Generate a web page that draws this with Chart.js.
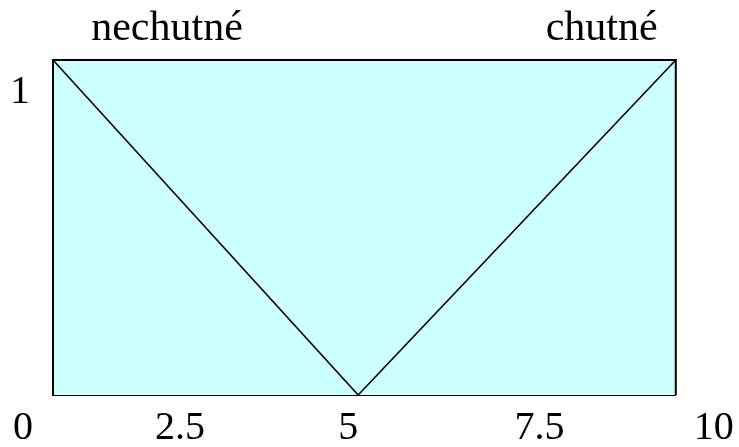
<!DOCTYPE html>
<html><head><meta charset="utf-8">
<script src="https://cdn.jsdelivr.net/npm/chart.js@4/dist/chart.umd.min.js"></script>
<style>html,body{margin:0;padding:0;background:#fff}canvas{display:block}</style>
</head><body>
<canvas id="c" width="739" height="447"></canvas>
<script>
// ---- data ----
const seriesNames = ['nechutné', 'chutné'];
const nechutneX = [0, 4.9];
const nechutneY = [1, 0];
const chutneX = [4.9, 10];
const chutneY = [0, 1];
// universe of discourse box (0..10 by membership 0..1); bottom edge is the x axis line
const boxX = [0, 0, 10, 10];
const boxY = [0, 1, 1, 0];
// tick labels
const xTickLabels = ['0', '2.5', '5', '7.5', '10'];
const yTickLabels = ['1'];

// ---- layout (where the hand-placed labels sit along the axes) ----
const xLabelPlace = [-0.48, 2.04, 4.74, 7.81, 10.61];
const yLabelPlace = [1];
const namePlace = [1.83, 8.81];

const pts = (xs, ys) => xs.map((x, i) => ({x: x, y: ys[i]}));
const FAMILY = '"Liberation Serif", "Times New Roman", serif';
const FONT = {family: FAMILY, size: 40, lineHeight: 1.2};
const NAME_FONT = {family: FAMILY, size: 42, lineHeight: 1.2};
const noGrid = {display: false, drawTicks: false};
const noBorder = {display: false};

new Chart(document.getElementById('c'), {
  type: 'line',
  data: {
    datasets: [
      {label: seriesNames[0], data: pts(nechutneX, nechutneY),
       borderColor: '#000', borderWidth: 1.6, pointRadius: 0, fill: false, clip: false, tension: 0},
      {label: seriesNames[1], data: pts(chutneX, chutneY),
       borderColor: '#000', borderWidth: 1.6, pointRadius: 0, fill: false, clip: false, tension: 0},
      {label: 'box', data: pts(boxX, boxY),
       borderColor: '#000', borderWidth: 2, pointRadius: 0, fill: 'origin',
       backgroundColor: '#CCFFFF', clip: false, tension: 0}
    ]
  },
  options: {
    responsive: false, animation: false, devicePixelRatio: 1,
    layout: {padding: {left: 0, right: 62, top: 0, bottom: 0}},
    plugins: {legend: {display: false}, tooltip: {enabled: false}},
    scales: {
      x: {
        type: 'linear', position: 'bottom', min: 0, max: 10, z: 1,
        grid: noGrid, border: {display: true, color: '#000', width: 2},
        afterBuildTicks: s => { s.ticks = xLabelPlace.map(v => ({value: v})); },
        afterFit: s => { s.height = 52; },
        ticks: {autoSkip: false, maxRotation: 0, minRotation: 0, padding: 9, color: '#000',
                font: FONT, callback: (v, i) => xTickLabels[i]}
      },
      xTop: {
        type: 'linear', position: 'top', min: 0, max: 10,
        grid: noGrid, border: noBorder,
        afterBuildTicks: s => { s.ticks = namePlace.map(v => ({value: v})); },
        afterFit: s => { s.height = 60; },
        ticks: {autoSkip: false, maxRotation: 0, minRotation: 0, padding: 6, color: '#000',
                font: NAME_FONT, callback: (v, i) => seriesNames[i]}
      },
      y: {
        type: 'linear', position: 'left', min: 0, max: 1,
        grid: noGrid, border: noBorder,
        afterBuildTicks: s => { s.ticks = yLabelPlace.map(v => ({value: v})); },
        afterFit: s => { s.width = 53; },
        ticks: {autoSkip: false, padding: 23, labelOffset: 32, color: '#000',
                font: FONT, callback: (v, i) => yTickLabels[i]}
      }
    }
  }
});
</script>
</body></html>
